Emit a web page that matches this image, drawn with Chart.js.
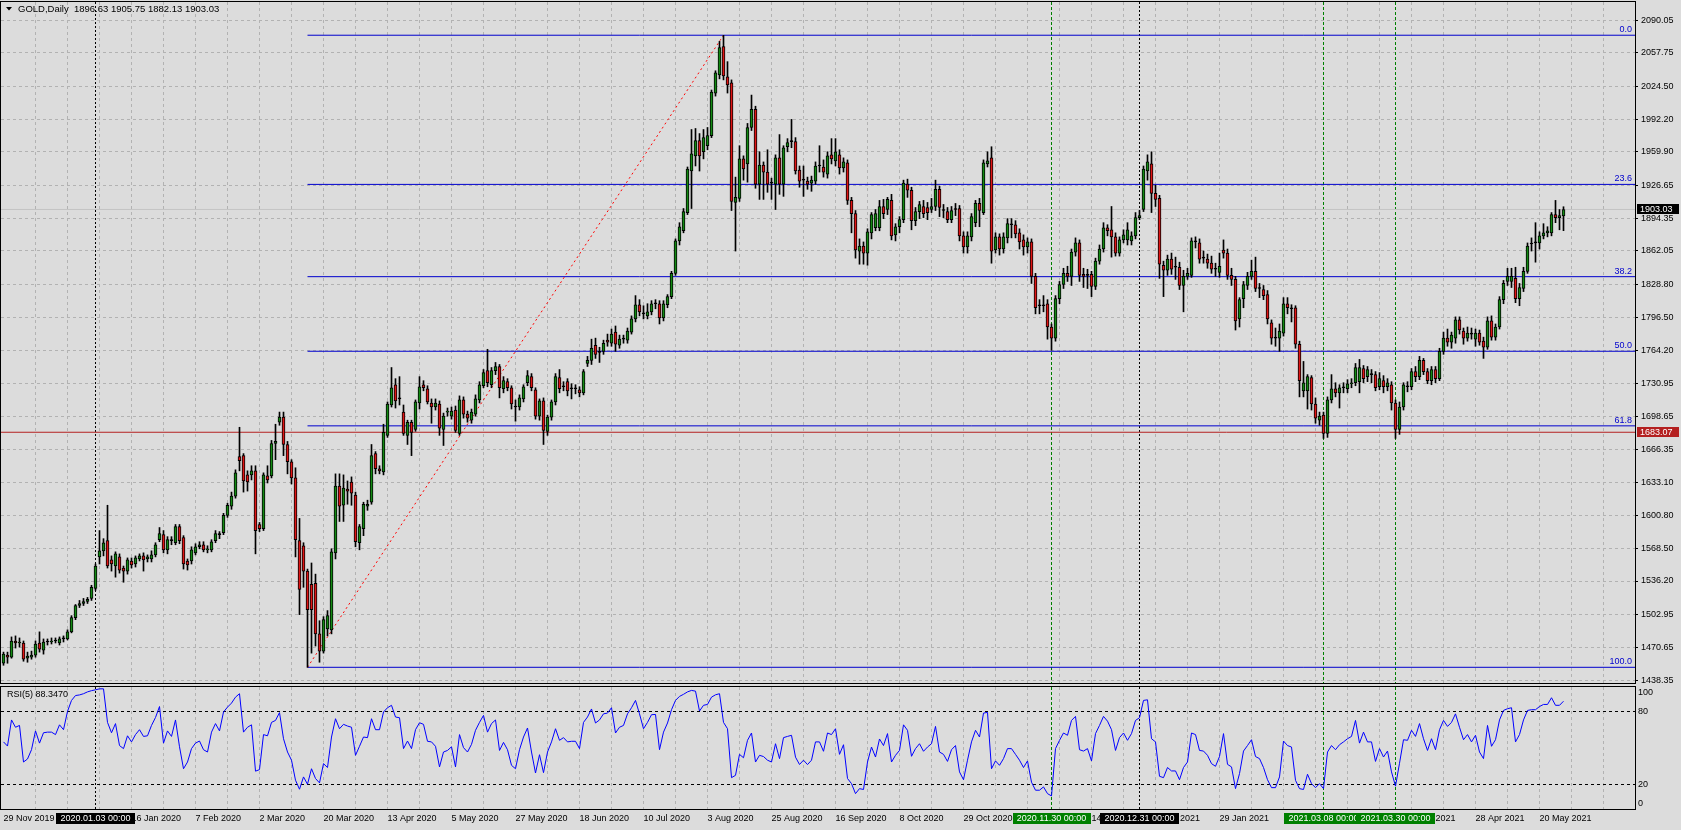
<!DOCTYPE html>
<html lang="en">
<head>
<meta charset="UTF-8">
<title>GOLD,Daily</title>
<script src="https://cdn.jsdelivr.net/npm/chart.js"></script>
<style>
  body { margin: 0; background: #dcdcdc; width: 1681px; height: 830px; overflow: hidden; position: relative; }
  canvas { position: absolute; left: 0; }
  #main { top: 0; }
  #rsi { top: 676px; }
</style>
</head>
<body>
<canvas id="main" width="1681" height="690"></canvas>
<canvas id="rsi" width="1681" height="154"></canvas>
<script>
// daily bars, 29 Nov 2019 .. 27 May 2021
const opens = [
  1455,1463,1461,1477,1475,1475,1460,1461,1463,1475,
  1468,1476,1476,1477,1475,1479,1479,1486,1500,1512,
  1514,1516,1519,1529,1560,1566,1576,1557,1551,1560,
  1549,1546,1556,1553,1558,1561,1558,1558,1562,1577,
  1582,1567,1576,1574,1590,1579,1556,1556,1564,1570,
  1572,1567,1567,1576,1582,1584,1601,1610,1620,1659,
  1660,1641,1641,1645,1592,1588,1640,1640,1672,1693,
  1698,1671,1654,1638,1576,1571,1546,1533,1534,1484,
  1467,1489,1488,1564,1630,1611,1627,1634,1621,1574,
  1588,1610,1614,1662,1647,1644,1680,1710,1730,1716,
  1703,1680,1693,1686,1712,1730,1726,1712,1708,1711,
  1686,1703,1699,1705,1682,1715,1701,1695,1701,1715,
  1729,1744,1730,1744,1748,1726,1733,1727,1708,1708,
  1716,1732,1738,1725,1699,1714,1684,1698,1713,1737,
  1728,1733,1726,1726,1725,1722,1751,1754,1769,1762,
  1763,1774,1771,1782,1769,1775,1774,1782,1795,1809,
  1800,1798,1802,1810,1810,1796,1809,1817,1840,1872,
  1882,1900,1941,1956,1971,1960,1966,1976,2018,2036,
  2064,2034,2028,1910,1914,1953,1948,1984,2002,1928,
  1947,1940,1929,1928,1954,1928,1965,1970,1970,1942,
  1932,1931,1929,1931,1946,1945,1938,1957,1951,1957,
  1944,1949,1912,1899,1862,1867,1860,1880,1885,1885,
  1906,1903,1912,1878,1886,1893,1928,1922,1892,1901,
  1906,1905,1903,1906,1923,1902,1901,1893,1903,1904,
  1877,1866,1876,1890,1909,1900,1948,1954,1863,1876,
  1864,1875,1888,1888,1880,1873,1866,1871,1837,1808,
  1808,1810,1787,1776,1815,1829,1840,1837,1861,1870,
  1839,1838,1839,1827,1852,1864,1885,1883,1876,1860,
  1873,1873,1872,1877,1895,1903,1941,1948,1919,1914,
  1848,1843,1854,1846,1846,1828,1837,1838,1871,1870,
  1855,1854,1850,1844,1841,1863,1860,1838,1834,1795,
  1815,1828,1837,1842,1825,1824,1819,1791,1776,1776,
  1781,1810,1805,1806,1770,1724,1724,1737,1711,1695,
  1700,1682,1715,1726,1722,1727,1726,1731,1732,1733,
  1746,1738,1740,1740,1728,1734,1728,1730,1712,1686,
  1708,1728,1728,1743,1738,1754,1743,1734,1745,1736,
  1763,1776,1772,1776,1794,1783,1776,1780,1775,1781,
  1773,1767,1793,1777,1787,1814,1832,1832,1835,1815,
  1825,1842,1869,1870,1870,1877,1880,1880,1898,1895,
  1896.63
];
const highs = [
  1466,1466,1481,1482,1480,1477,1466,1467,1477,1486,
  1479,1479,1480,1480,1481,1482,1488,1502,1513,1517,
  1519,1520,1532,1553,1586,1578,1611,1561,1565,1563,
  1551,1559,1559,1561,1563,1564,1562,1566,1574,1589,
  1586,1580,1580,1592,1592,1581,1558,1570,1573,1575,
  1575,1571,1577,1586,1585,1603,1613,1624,1646,1688,
  1662,1645,1650,1650,1594,1643,1650,1675,1691,1703,
  1703,1674,1656,1648,1598,1574,1548,1554,1543,1497,
  1501,1507,1568,1642,1642,1641,1635,1639,1624,1592,
  1614,1616,1671,1664,1650,1691,1713,1747,1736,1738,
  1710,1695,1695,1715,1738,1734,1729,1716,1716,1714,
  1702,1707,1708,1709,1719,1718,1704,1706,1720,1733,
  1745,1765,1747,1752,1750,1738,1736,1729,1715,1720,
  1730,1744,1741,1727,1716,1717,1700,1715,1741,1745,
  1733,1736,1731,1730,1728,1745,1758,1775,1776,1767,
  1774,1780,1785,1788,1779,1779,1786,1798,1818,1814,
  1808,1810,1813,1814,1813,1813,1819,1842,1874,1890,
  1904,1945,1982,1983,1978,1982,1984,2021,2040,2069,
  2075,2049,2031,1935,1966,1956,1988,2016,2005,1960,
  1950,1962,1934,1957,1977,1966,1973,1992,1974,1946,
  1946,1935,1936,1950,1966,1952,1960,1973,1973,1962,
  1954,1952,1915,1902,1874,1871,1884,1900,1903,1912,
  1913,1915,1918,1889,1896,1932,1933,1925,1905,1911,
  1912,1910,1914,1932,1926,1908,1905,1906,1909,1907,
  1881,1881,1899,1912,1914,1952,1960,1965,1880,1879,
  1880,1894,1894,1892,1884,1878,1875,1874,1840,1814,
  1818,1814,1790,1818,1832,1845,1847,1864,1875,1873,
  1845,1844,1842,1855,1868,1890,1888,1906,1880,1876,
  1883,1890,1881,1900,1902,1946,1957,1960,1927,1917,
  1852,1858,1860,1856,1851,1843,1845,1875,1876,1874,
  1862,1859,1857,1850,1860,1873,1864,1845,1837,1816,
  1832,1841,1853,1856,1830,1828,1823,1794,1786,1790,
  1816,1816,1809,1808,1773,1753,1740,1739,1717,1703,
  1703,1718,1740,1732,1730,1732,1735,1736,1751,1755,
  1749,1748,1745,1743,1742,1739,1736,1733,1715,1713,
  1732,1733,1746,1748,1758,1756,1746,1748,1748,1766,
  1782,1785,1782,1797,1797,1786,1787,1786,1785,1784,
  1777,1797,1798,1790,1817,1833,1845,1845,1846,1830,
  1846,1870,1875,1890,1881,1889,1886,1900,1912,1903,
  1905.75
];
const lows = [
  1453,1455,1460,1470,1471,1457,1456,1459,1461,1466,
  1464,1473,1474,1475,1473,1476,1478,1485,1498,1510,
  1512,1514,1517,1527,1553,1561,1549,1546,1540,1544,
  1535,1543,1549,1550,1556,1546,1555,1555,1560,1575,
  1564,1563,1572,1572,1573,1548,1547,1553,1562,1568,
  1565,1564,1565,1574,1578,1582,1599,1607,1618,1645,
  1624,1625,1636,1563,1585,1586,1633,1638,1656,1690,
  1660,1642,1632,1560,1503,1530,1451,1465,1472,1456,
  1465,1482,1484,1558,1595,1595,1612,1611,1570,1567,
  1581,1606,1612,1642,1642,1641,1678,1708,1707,1710,
  1680,1671,1660,1684,1706,1724,1711,1692,1705,1680,
  1670,1699,1696,1683,1680,1697,1693,1692,1699,1712,
  1727,1728,1727,1740,1717,1722,1724,1706,1694,1705,
  1713,1729,1724,1696,1695,1671,1680,1695,1710,1722,
  1724,1719,1716,1721,1718,1720,1748,1750,1756,1752,
  1760,1768,1768,1763,1766,1771,1771,1780,1792,1798,
  1795,1795,1799,1805,1790,1793,1806,1815,1838,1868,
  1880,1898,1904,1946,1941,1953,1962,1974,2015,2032,
  2031,2018,1902,1862,1911,1932,1930,1981,1924,1913,
  1913,1920,1913,1903,1918,1916,1960,1964,1938,1925,
  1916,1923,1921,1928,1940,1935,1934,1948,1946,1938,
  1940,1908,1880,1855,1849,1849,1848,1874,1882,1882,
  1894,1898,1873,1872,1880,1890,1915,1883,1887,1894,
  1895,1893,1900,1902,1896,1895,1890,1890,1897,1872,
  1860,1860,1872,1886,1886,1898,1945,1850,1860,1858,
  1860,1870,1875,1875,1864,1858,1860,1830,1800,1800,
  1802,1775,1764,1773,1810,1825,1832,1828,1857,1832,
  1826,1825,1817,1824,1849,1861,1877,1856,1857,1857,
  1870,1868,1868,1874,1893,1901,1932,1900,1906,1835,
  1817,1838,1839,1834,1824,1802,1834,1836,1865,1850,
  1850,1845,1840,1837,1836,1855,1834,1828,1784,1787,
  1806,1824,1834,1822,1816,1814,1790,1770,1768,1763,
  1778,1800,1792,1766,1718,1718,1706,1705,1692,1690,
  1677,1678,1712,1718,1707,1722,1722,1727,1729,1722,
  1732,1733,1732,1724,1725,1722,1724,1705,1677,1681,
  1705,1723,1725,1733,1735,1740,1731,1730,1732,1734,
  1760,1768,1766,1771,1780,1770,1773,1775,1768,1769,
  1756,1765,1774,1774,1785,1810,1828,1826,1811,1808,
  1822,1840,1862,1851,1864,1874,1876,1877,1890,1883,
  1882.13
];
const closes = [
  1464,1461,1477,1475,1476,1459,1462,1463,1474,1469,
  1476,1476,1477,1477,1479,1479,1486,1500,1512,1514,
  1516,1518,1530,1551,1566,1574,1551,1553,1563,1547,
  1546,1557,1552,1559,1561,1557,1560,1562,1572,1583,
  1567,1577,1576,1590,1576,1553,1552,1567,1570,1572,
  1567,1568,1575,1583,1582,1601,1611,1620,1643,1655,
  1635,1634,1645,1586,1588,1641,1636,1672,1674,1698,
  1671,1654,1638,1577,1528,1546,1508,1508,1484,1467,
  1498,1502,1565,1630,1610,1628,1625,1623,1575,1590,
  1612,1612,1660,1647,1645,1683,1711,1727,1714,1716,
  1682,1693,1683,1713,1728,1727,1713,1708,1712,1687,
  1699,1704,1704,1685,1715,1701,1697,1703,1716,1730,
  1742,1732,1744,1748,1727,1734,1727,1711,1708,1717,
  1728,1739,1727,1699,1714,1685,1698,1713,1738,1726,
  1728,1724,1726,1726,1722,1743,1754,1766,1760,1762,
  1771,1772,1780,1770,1775,1775,1783,1795,1809,1802,
  1800,1802,1810,1810,1796,1810,1817,1840,1872,1886,
  1901,1943,1958,1971,1956,1974,1976,2019,2038,2063,
  2035,2026,1911,1915,1953,1943,1984,2002,1928,1947,
  1940,1928,1929,1954,1928,1964,1969,1970,1941,1931,
  1932,1928,1932,1946,1946,1940,1956,1953,1960,1944,
  1950,1912,1899,1863,1867,1860,1881,1898,1899,1906,
  1899,1913,1877,1886,1893,1929,1922,1892,1901,1908,
  1899,1900,1906,1923,1905,1902,1893,1902,1903,1877,
  1866,1877,1896,1909,1902,1949,1951,1862,1876,1864,
  1876,1889,1888,1879,1871,1866,1871,1837,1806,1808,
  1808,1787,1776,1815,1829,1840,1837,1861,1870,1838,
  1837,1838,1827,1852,1864,1885,1882,1876,1860,1873,
  1878,1883,1877,1895,1897,1943,1950,1919,1913,1849,
  1843,1854,1844,1846,1828,1837,1840,1872,1871,1854,
  1855,1850,1844,1844,1847,1860,1838,1834,1793,1814,
  1829,1837,1842,1825,1825,1818,1795,1776,1776,1783,
  1810,1806,1805,1770,1734,1732,1738,1711,1697,1699,
  1682,1715,1726,1722,1727,1727,1731,1732,1747,1747,
  1736,1745,1740,1727,1736,1728,1732,1712,1686,1708,
  1730,1728,1743,1738,1754,1743,1734,1745,1736,1763,
  1776,1772,1779,1794,1784,1776,1781,1780,1781,1772,
  1767,1793,1777,1787,1814,1830,1837,1837,1815,1826,
  1842,1867,1869,1870,1877,1880,1882,1898,1895,1897,
  1903.03
];
// RSI(5) values
const rsi = [
  55,51.6,73,67,68.5,38.5,41,48.6,64,54,
  62.5,63,63,61,69,65,80,89,93,93.5,
  94.5,96,97,97.7,98.5,98.5,71,62.5,70,52,
  49.5,60,55,61,65,59.5,60,68.5,75,84,
  54,64,59.5,73,51,33,38.5,49.5,54,55.7,
  48.6,46.7,63,70,64,79.5,83.5,86.8,91.7,94.5,
  63,67,69,31,32.3,61,60,71,72.6,79,
  57.6,46.7,40,23.6,16.2,26.3,20.3,33,25,21.4,
  37.2,34,59,74,65.8,69.4,68,67,44,51.4,
  59,58.5,74,65,65,79.5,83,85,75.4,74.8,
  49.5,55.7,49.5,65,70.7,69.4,55.5,55,51.4,34.5,
  46.7,48,51,34.5,61,50.3,46.7,53,64.5,71,
  76.7,63,70,73,48,54.6,48.6,35.8,33,48.6,
  59,66.4,46.7,29.5,44.5,29.8,46.7,55,65.8,56.3,
  58.5,55,55.5,55.5,49.5,71,75.4,82,70.5,73,
  78,78.6,83,62.3,67,68.5,78,83,89,78,
  65.8,71,77.3,77.5,48.6,63,70.5,81.4,89,92.3,
  94,96,97.2,96.6,80.3,85,85.7,91.7,93.6,94.5,
  71,65.8,25.7,27.6,44.8,42,56.3,62.3,38.5,44,
  43,40,38.5,53.5,41.3,58.5,59.5,60.4,42.5,36.5,
  40,36.4,40,55,55,47.3,62.3,61,65.8,44.8,
  52.7,25,20.8,12.6,16.7,16,38.5,50.8,42.6,57.4,
  52,61.8,38.5,44,48,69,64.5,43.2,49.5,53.5,
  47.3,50.8,53.5,67.7,46.7,44.8,39,48.6,52,30.4,
  24,40,55,64.5,59,78.6,79.2,33,39.4,35.8,
  41.3,49.5,49.5,44.8,40,34,39.4,22,15.4,15.4,
  18.1,12.6,10.7,49.5,56.3,62.3,60.4,72.6,75.9,48.6,
  47.5,49.5,39.4,61.8,68.5,75.9,72,65,48,58.5,
  62.3,56.3,61.8,72.6,74.8,89,89.5,57.6,55,26.8,
  25.7,34,31.2,31.2,24,34,38.5,62.3,61,48,
  47.5,44,37.2,35,43,61.8,36.6,34.5,16.7,29,
  47.5,52,56.8,43,41.3,34,24,17.5,17.5,26.3,
  55.7,52,50.8,23.5,16.7,16,28.5,20.8,17.5,20.8,
  16.7,46.7,52,48.6,52.7,55,57.6,59.5,72.6,54,
  63,55,55,39,49.5,42.6,47.5,30.4,18.7,37.5,
  56.8,56.3,64.5,59.5,70,57.6,48,57.6,48.6,65,
  72.6,67.7,71,78,67,56.8,61,55,60.4,46.7,
  41.3,68.5,51.4,56.8,73,80.8,82.2,83,55,61,
  73,80.8,81.4,81.4,84,85.7,85.7,91.2,85,85,
  88.347
];

// one date label every 16 bars, starting at bar 0
const dateLabels = ['29 Nov 2019','23 Dec 2019','16 Jan 2020','7 Feb 2020','2 Mar 2020','20 Mar 2020',
  '13 Apr 2020','5 May 2020','27 May 2020','18 Jun 2020','10 Jul 2020','3 Aug 2020','25 Aug 2020',
  '16 Sep 2020','8 Oct 2020','29 Oct 2020','20 Nov 2020','14 Dec 2020','7 Jan 2021','29 Jan 2021',
  '22 Feb 2021','16 Mar 2021','7 Apr 2021','28 Apr 2021','20 May 2021'];
const priceTicks = [2090.05,2057.75,2024.50,1992.20,1959.90,1926.65,1894.35,1862.05,1828.80,1796.50,
  1764.20,1730.95,1698.65,1666.35,1633.10,1600.80,1568.50,1536.20,1502.95,1470.65,1438.35];
const rsiTicks = [0, 20, 80, 100];
const rsiLevels = [20, 80];

// fibonacci retracement between the March low and the August high
const fibLevels = [0, 23.6, 38.2, 50, 61.8, 100];
const fibHigh = 2075.1, fibLow = 1451.0;
const fibLowBar = 76, fibHighBar = 180;
const hLinePrice = 1683.07;

// vertical lines with their date boxes
const markerBars = [23, 262, 284, 330, 348];
const markerLabels = ['2020.01.03 00:00','2020.11.30 00:00','2020.12.31 00:00','2021.03.08 00:00','2021.03.30 00:00'];
const markerGreen = [false, true, false, true, true];

const FONT = '"Liberation Sans", Arial, sans-serif';
const FONT_STR = '9px ' + FONT;
const X_MIN = -0.625, X_MAX = 407.875;
const GRID = '#b2b2b2';
const UP = '#138a13', DOWN = '#e01515', FIB = '#0000cd';

Chart.defaults.font.family = FONT;
Chart.defaults.font.size = 9;
Chart.defaults.color = '#000';

const N = closes.length;
const last = N - 1;
const fibPrice = l => fibHigh - (fibHigh - fibLow) * l / 100;

const wickData = closes.map((c, i) => ({ x: i, y: [lows[i], highs[i]] }));
const bodyData = closes.map((c, i) => ({ x: i, y: [opens[i], c] }));
const bodyFill = closes.map((c, i) => c > opens[i] ? UP : (c < opens[i] ? DOWN : '#000'));

const gridTicks = [];
for (let v = 0; v <= X_MAX; v += 8) gridTicks.push({ value: v });

function hline(price, color, order) {
  return { type: 'line', data: [{ x: X_MIN, y: price }, { x: X_MAX, y: price }],
    borderColor: color, borderWidth: 1, pointRadius: 0, order: order };
}

function drawMarkers(ctx, a, x) {
  ctx.save();
  ctx.lineWidth = 1;
  markerBars.forEach((b, k) => {
    const px = Math.round(x.getPixelForValue(b) - 0.5) + 0.5;
    ctx.strokeStyle = markerGreen[k] ? '#008000' : '#000';
    ctx.setLineDash(markerGreen[k] ? [3, 2] : [2, 2]);
    ctx.beginPath();
    ctx.moveTo(px, a.top);
    ctx.lineTo(px, a.bottom);
    ctx.stroke();
  });
  ctx.restore();
}

function drawFrame(ctx, a) {
  ctx.save();
  ctx.strokeStyle = '#000';
  ctx.lineWidth = 1;
  ctx.strokeRect(a.left - 0.5, a.top - 0.5, a.right - a.left + 1, a.bottom - a.top + 1);
  ctx.restore();
}

function priceBox(ctx, a, y, price, bg) {
  const py = y.getPixelForValue(price);
  ctx.fillStyle = bg;
  ctx.fillRect(a.right + 2, Math.round(py) - 5, 42, 10);
  ctx.fillStyle = '#fff';
  ctx.textAlign = 'left';
  ctx.textBaseline = 'middle';
  ctx.fillText(price.toFixed(2), a.right + 5, Math.round(py) + 0.5);
}

// keep the vertical axes from pushing the plot area down
function fixY(width) {
  return s => { s.width = width; s.paddingTop = 0; s.paddingBottom = 0; };
}

const mainDeco = {
  id: 'mainDeco',
  beforeDatasetsDraw(chart) {
    drawMarkers(chart.ctx, chart.chartArea, chart.scales.x);
  },
  afterDatasetsDraw(chart) {
    const { ctx, chartArea: a, scales: { y } } = chart;
    ctx.save();
    ctx.font = FONT_STR;
    ctx.fillStyle = FIB;
    ctx.textAlign = 'right';
    ctx.textBaseline = 'bottom';
    fibLevels.forEach(l => {
      ctx.fillText(l.toFixed(1), a.right - 3, y.getPixelForValue(fibPrice(l)) - 1);
    });
    ctx.restore();
    drawFrame(ctx, a);
  },
  afterDraw(chart) {
    const { ctx, chartArea: a, scales: { y } } = chart;
    ctx.save();
    ctx.font = '9.5px ' + FONT;
    // header
    ctx.fillStyle = '#000';
    ctx.beginPath();
    ctx.moveTo(6, 7); ctx.lineTo(12, 7); ctx.lineTo(9, 10.5); ctx.closePath();
    ctx.fill();
    ctx.textAlign = 'left';
    ctx.textBaseline = 'middle';
    const f = v => v.toFixed(2);
    ctx.fillText('GOLD,Daily  ' + f(opens[last]) + ' ' + f(highs[last]) + ' ' + f(lows[last]) + ' ' + f(closes[last]), 18, 9);
    // price labels on the axis
    ctx.font = FONT_STR;
    priceBox(ctx, a, y, closes[last], '#000');
    priceBox(ctx, a, y, hLinePrice, '#b42020');
    ctx.restore();
  }
};

const datasets = [];
fibLevels.forEach(l => {
  datasets.push({ type: 'line', data: [{ x: fibLowBar, y: fibPrice(l) }, { x: X_MAX, y: fibPrice(l) }],
    borderColor: FIB, borderWidth: 1, pointRadius: 0, order: 10 });
});
datasets.push({ type: 'line', data: [{ x: fibLowBar, y: fibLow }, { x: fibHighBar, y: fibHigh }],
  borderColor: '#ff0000', borderWidth: 1, borderDash: [2, 3], pointRadius: 0, order: 9 });
datasets.push(hline(closes[last], '#c4c4c4', 8));
datasets.push(hline(hLinePrice, '#b42020', 7));
datasets.push({ type: 'bar', data: wickData, backgroundColor: '#000', barThickness: 1,
  grouped: false, order: 2 });
datasets.push({ type: 'bar', data: bodyData, backgroundColor: bodyFill, borderColor: '#000',
  borderWidth: 1, borderSkipped: false, barThickness: 3, minBarLength: 1, grouped: false, order: 1 });

new Chart(document.getElementById('main'), {
  data: { datasets: datasets },
  options: {
    responsive: false,
    animation: false,
    devicePixelRatio: 1,
    events: [],
    layout: { padding: { left: 1, top: 2, right: 0, bottom: 7 } },
    plugins: { legend: { display: false }, tooltip: { enabled: false } },
    scales: {
      x: {
        type: 'linear', min: X_MIN, max: X_MAX, offset: false,
        afterBuildTicks: s => { s.ticks = gridTicks.slice(); },
        afterFit: s => { s.height = 0; s.paddingLeft = 0; s.paddingRight = 0; },
        ticks: { display: false, autoSkip: false },
        grid: { offset: false, color: c => c.tick && c.tick.value === 0 ? 'rgba(0,0,0,0)' : GRID, drawTicks: false },
        border: { display: false, dash: [3, 3] }
      },
      y: {
        position: 'right', min: 1435.5, max: 2107.9,
        afterBuildTicks: s => { s.ticks = priceTicks.map(v => ({ value: v })); },
        afterFit: fixY(46),
        ticks: { callback: v => v.toFixed(2), padding: 3, autoSkip: false },
        grid: { color: GRID, tickColor: '#000', tickLength: 3, drawTicks: true },
        border: { display: false, dash: [3, 3] }
      }
    }
  },
  plugins: [mainDeco]
});

const rsiDeco = {
  id: 'rsiDeco',
  beforeDatasetsDraw(chart) {
    drawMarkers(chart.ctx, chart.chartArea, chart.scales.x);
  },
  afterDraw(chart) {
    const { ctx, chartArea: a, scales: { x } } = chart;
    drawFrame(ctx, a);
    ctx.save();
    ctx.font = FONT_STR;
    ctx.fillStyle = '#000';
    ctx.textAlign = 'left';
    ctx.textBaseline = 'middle';
    ctx.fillText('RSI(5) ' + rsi[last].toFixed(4), 7, a.top + 8);
    ctx.textAlign = 'center';
    markerBars.forEach((b, k) => {
      const px = x.getPixelForValue(b);
      const w = Math.round(ctx.measureText(markerLabels[k]).width) + 9;
      ctx.fillStyle = markerGreen[k] ? '#008000' : '#000';
      ctx.fillRect(Math.round(px - w / 2), a.bottom + 4, w, 11);
      ctx.fillStyle = '#fff';
      ctx.fillText(markerLabels[k], px, a.bottom + 10);
    });
    ctx.restore();
  }
};

new Chart(document.getElementById('rsi'), {
  type: 'line',
  data: {
    datasets: [{
      data: rsi.map((v, i) => ({ x: i, y: v })),
      borderColor: '#0000ff', borderWidth: 1, pointRadius: 0, tension: 0
    }]
  },
  options: {
    responsive: false,
    animation: false,
    devicePixelRatio: 1,
    events: [],
    layout: { padding: { left: 1, top: 11, right: 0, bottom: 0 } },
    plugins: { legend: { display: false }, tooltip: { enabled: false } },
    scales: {
      x: {
        type: 'linear', min: X_MIN, max: X_MAX, offset: false,
        afterBuildTicks: s => { s.ticks = gridTicks.slice(); },
        afterFit: s => { s.height = 21; s.paddingLeft = 0; s.paddingRight = 0; },
        ticks: {
          autoSkip: false, maxRotation: 0, align: 'start', padding: 4,
          callback: v => (v % 16 === 0 && dateLabels[v / 16]) ? dateLabels[v / 16] : ''
        },
        grid: { color: c => c.tick && c.tick.value === 0 ? 'rgba(0,0,0,0)' : GRID, drawTicks: false },
        border: { display: false, dash: [3, 3] }
      },
      y: {
        position: 'right', min: 0, max: 100,
        afterBuildTicks: s => { s.ticks = rsiTicks.map(v => ({ value: v })); },
        afterFit: fixY(46),
        ticks: {
          padding: 3,
          callback: v => v === 100 ? ['', '100'] : (v === 0 ? ['0', ''] : String(v))
        },
        grid: { color: c => c.tick && rsiLevels.includes(c.tick.value) ? '#000' : 'rgba(0,0,0,0)', drawTicks: false },
        border: { display: false, dash: [3, 3] }
      }
    }
  },
  plugins: [rsiDeco]
});
</script>
</body>
</html>
